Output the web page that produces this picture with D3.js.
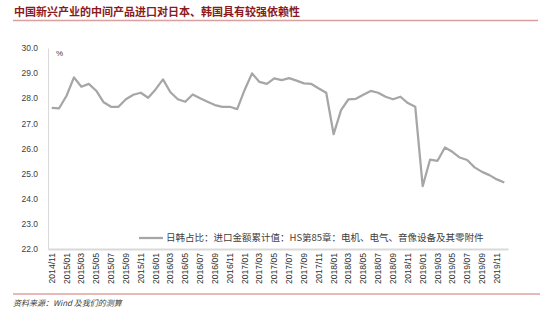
<!DOCTYPE html>
<html>
<head>
<meta charset="utf-8">
<script src="https://cdn.jsdelivr.net/npm/d3@7"></script>
<style>
  body { margin: 0; background: #fff; }
  svg { display: block; font-family: "Liberation Sans", "Noto Sans CJK SC", sans-serif; }
</style>
</head>
<body>
<svg id="chart" width="550" height="311"></svg>
<script>
// months 2014/11 .. 2019/12
const months = [
  '2014/11','2014/12',
  '2015/01','2015/02','2015/03','2015/04','2015/05','2015/06','2015/07','2015/08','2015/09','2015/10','2015/11','2015/12',
  '2016/01','2016/02','2016/03','2016/04','2016/05','2016/06','2016/07','2016/08','2016/09','2016/10','2016/11','2016/12',
  '2017/01','2017/02','2017/03','2017/04','2017/05','2017/06','2017/07','2017/08','2017/09','2017/10','2017/11','2017/12',
  '2018/01','2018/02','2018/03','2018/04','2018/05','2018/06','2018/07','2018/08','2018/09','2018/10','2018/11','2018/12',
  '2019/01','2019/02','2019/03','2019/04','2019/05','2019/06','2019/07','2019/08','2019/09','2019/10','2019/11','2019/12'
];

// 日韩占比 (%)
const shareJK = [
  27.62, 27.6,
  28.1, 28.83, 28.46, 28.57, 28.3, 27.84, 27.66, 27.66, 27.96, 28.14, 28.22, 28.02,
  28.35, 28.75, 28.24, 27.96, 27.86, 28.15, 28.0, 27.86, 27.73, 27.66, 27.66, 27.57,
  28.33, 28.99, 28.65, 28.57, 28.79, 28.72, 28.8, 28.7, 28.59, 28.57, 28.39, 28.22,
  26.57, 27.53, 27.96, 27.98, 28.14, 28.29, 28.22, 28.06, 27.96, 28.06, 27.81, 27.66,
  24.5, 25.56, 25.51, 26.04, 25.87, 25.64, 25.54, 25.25, 25.07, 24.94, 24.77, 24.65
];

const yTicks = [22, 23, 24, 25, 26, 27, 28, 29, 30];
const xTickLabels = months.filter((m, i) => i % 2 === 0);

const titleText = '中国新兴产业的中间产品进口对日本、韩国具有较强依赖性';
const legendText = '日韩占比：进口金额累计值：HS第85章：电机、电气、音像设备及其零附件';
const sourceText = '资料来源：Wind 及我们的测算';

const svg = d3.select('#chart');
const margin = { top: 48, right: 42, bottom: 62, left: 48 };
const width = 550, height = 311;

const x = d3.scaleBand()
  .domain(months)
  .range([margin.left, width - margin.right]);

const y = d3.scaleLinear()
  .domain([22, 30])
  .range([height - margin.bottom, margin.top]);

// title
svg.append('text')
  .attr('x', 14)
  .attr('y', 16)
  .attr('font-family', '"Noto Sans CJK SC", sans-serif')
  .attr('font-size', 11)
  .attr('font-weight', 'bold')
  .attr('fill', '#8B1A1E')
  .text(titleText);

svg.append('line')
  .attr('x1', 13).attr('x2', 538)
  .attr('y1', 20.5).attr('y2', 20.5)
  .attr('stroke', '#D9A0A0')
  .attr('stroke-width', 1.5);

// y axis
const yAxis = d3.axisLeft(y)
  .tickValues(yTicks)
  .tickFormat(d3.format('.1f'))
  .tickSize(0)
  .tickPadding(10);

const gy = svg.append('g')
  .attr('transform', `translate(${margin.left},0)`)
  .call(yAxis);
gy.select('.domain').attr('stroke', '#D9D9D9');
gy.selectAll('text')
  .attr('font-size', 8.5)
  .attr('fill', '#404040');

// x axis
const xAxis = d3.axisBottom(x)
  .tickValues(xTickLabels)
  .tickSize(0)
  .tickPadding(4);

const gx = svg.append('g')
  .attr('transform', `translate(0,${height - margin.bottom})`)
  .call(xAxis);
gx.select('.domain').attr('stroke', '#D9D9D9').attr('stroke-width', 2);
gx.selectAll('text')
  .attr('font-size', 8.6)
  .attr('fill', '#333')
  .attr('text-anchor', 'end')
  .attr('dy', '0.35em')
  .attr('transform', 'rotate(-90)')
  .attr('x', -4)
  .attr('y', 0);

// unit
svg.append('text')
  .attr('x', 56)
  .attr('y', 56)
  .attr('font-size', 8)
  .attr('fill', '#404040')
  .text('%');

// line
const line = d3.line()
  .x((d, i) => x(months[i]) + x.bandwidth() / 2)
  .y(d => y(d));

svg.append('path')
  .datum(shareJK)
  .attr('fill', 'none')
  .attr('stroke', '#A6A6A6')
  .attr('stroke-width', 2.25)
  .attr('stroke-linejoin', 'round')
  .attr('d', line);

// legend
const legend = svg.append('g')
  .attr('transform', 'translate(139,238)');
legend.append('line')
  .attr('x1', 0).attr('x2', 24)
  .attr('stroke', '#A6A6A6')
  .attr('stroke-width', 2.25);
legend.append('text')
  .attr('x', 27)
  .attr('dy', '0.35em')
  .attr('font-family', '"Noto Sans CJK SC", sans-serif')
  .attr('font-size', 9.5)
  .attr('fill', '#404040')
  .text(legendText);

// source
svg.append('line')
  .attr('x1', 13).attr('x2', 540)
  .attr('y1', 294).attr('y2', 294)
  .attr('stroke', '#C0504D')
  .attr('stroke-width', 0.8);

svg.append('text')
  .attr('x', 13)
  .attr('y', 306)
  .attr('font-family', '"Noto Sans CJK SC", sans-serif')
  .attr('font-size', 8)
  .attr('font-style', 'italic')
  .attr('fill', '#404040')
  .text(sourceText);
</script>
</body>
</html>
